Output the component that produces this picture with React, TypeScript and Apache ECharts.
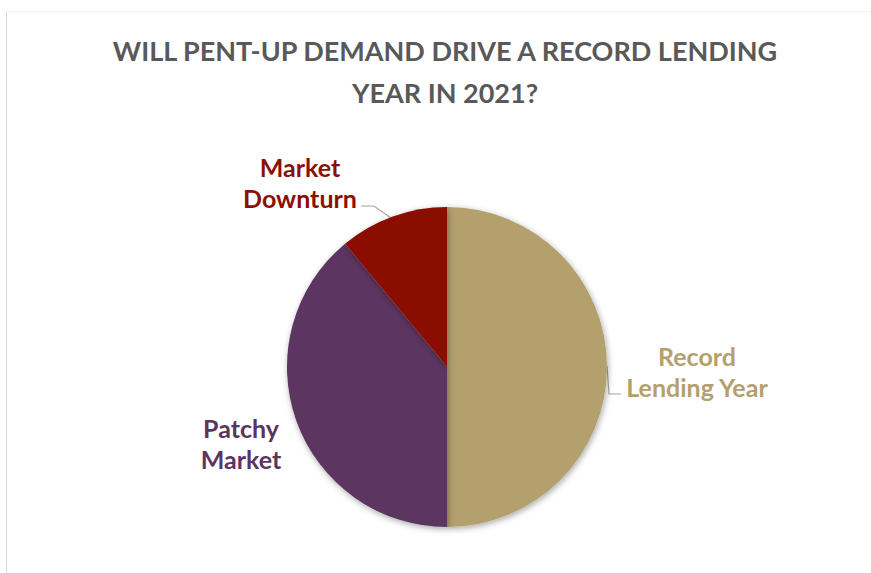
import React, { useEffect, useRef } from "react";
import * as echarts from "echarts";

const categories = ["Record Lending Year", "Patchy Market", "Market Downturn"];
const labelTexts = ["Record\nLending Year", "Patchy\nMarket", "Market\nDownturn"];
const values = [50, 39, 11];
const colors = ["#B4A06C", "#5B3560", "#8B0F04"];
const titleText = "WILL PENT-UP DEMAND DRIVE A RECORD LENDING\nYEAR IN 2021?";

const FONT = "Lato, 'Noto Sans', sans-serif";

export default function App() {
  const ref = useRef<HTMLDivElement>(null);
  useEffect(() => {
    if (!ref.current) return;
    const chart = echarts.init(ref.current, undefined, { renderer: "svg" });
    const labelPos: Record<number, { x: number; y: number; line?: number[][] }> = {
      0: { x: 697, y: 371, line: [[607, 366], [609, 394], [621, 394]] },
      1: { x: 241, y: 443 },
      2: { x: 300, y: 182, line: [[391, 218], [374, 206], [361, 206]] },
    };
    chart.setOption({
      animation: false,
      backgroundColor: "#ffffff",
      title: {
        text: titleText,
        left: 440,
        textAlign: "center",
        top: 24,
        textStyle: {
          fontFamily: FONT,
          fontWeight: "bold",
          fontSize: 27,
          color: "#595959",
          lineHeight: 42,
        },
      },
      graphic: [
        { type: "line", shape: { x1: 6.5, y1: 11, x2: 6.5, y2: 573 }, style: { stroke: "#d9d9d9", lineWidth: 1 } },
        { type: "line", shape: { x1: 6, y1: 11.5, x2: 871, y2: 11.5 }, style: { stroke: "#f2f2f2", lineWidth: 1 } },
      ],
      series: [
        {
          type: "pie",
          center: [447, 367],
          radius: 160,
          startAngle: 90,
          clockwise: true,
          data: categories.map((c, i) => ({
            name: c,
            value: values[i],
            itemStyle: { color: colors[i] },
            label: { color: colors[i] },
            labelLine: { show: i !== 1 },
          })),
          itemStyle: {
            shadowBlur: 6,
            shadowColor: "rgba(0,0,0,0.35)",
            shadowOffsetX: 1,
            shadowOffsetY: 2,
          },
          label: {
            show: true,
            formatter: (p: any) => labelTexts[p.dataIndex],
            fontFamily: FONT,
            fontWeight: "bold",
            fontSize: 25,
            lineHeight: 31,
            align: "center",
          },
          labelLine: {
            show: true,
            lineStyle: { color: "#a6a6a6", width: 1.2 },
          },
          labelLayout: (p: any) => {
            const pos = labelPos[p.dataIndex];
            const out: any = { x: pos.x, y: pos.y, align: "center", verticalAlign: "middle" };
            if (pos.line) out.labelLinePoints = pos.line;
            return out;
          },
        },
      ],
    });
    return () => chart.dispose();
  }, []);
  return (
    <div
      ref={ref}
      style={{ position: "fixed", left: 0, top: 0, width: 871, height: 573 }}
    />
  );
}
